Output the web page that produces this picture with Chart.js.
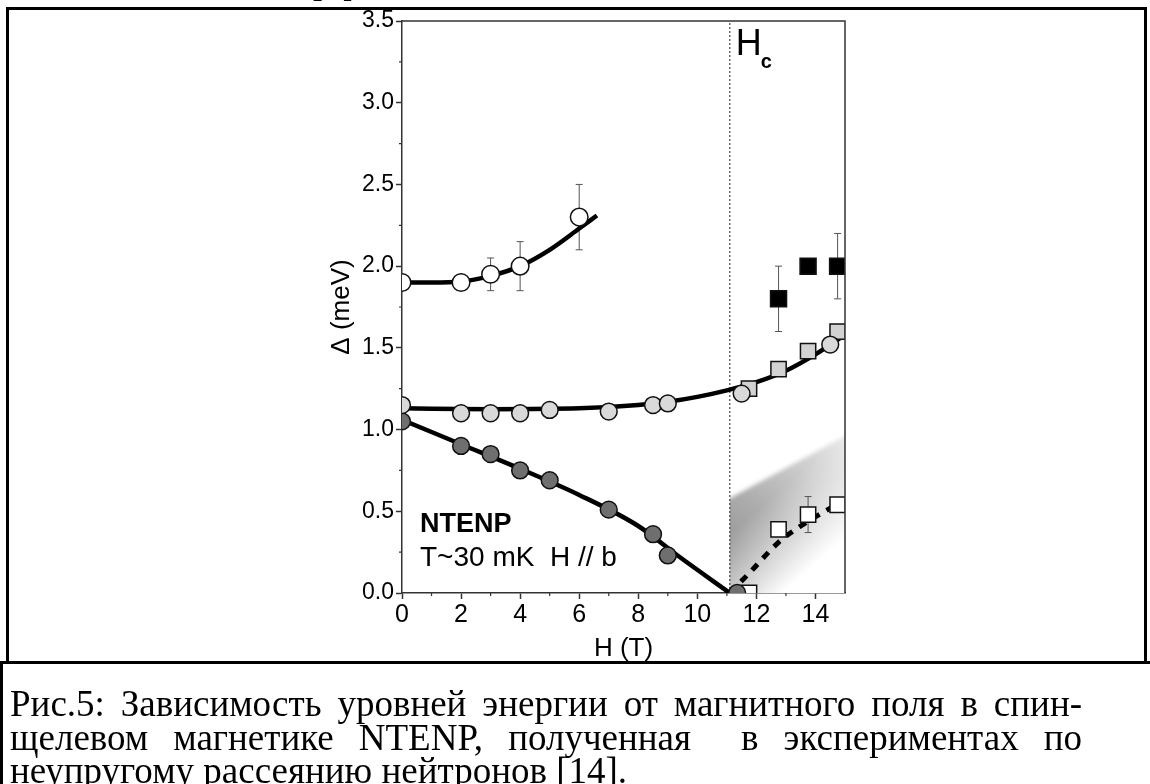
<!DOCTYPE html>
<html lang="ru">
<head>
<meta charset="utf-8">
<title>NTENP: Δ(H)</title>
<script src="https://cdn.jsdelivr.net/npm/chart.js@4.4.1/dist/chart.umd.min.js"></script>
<style>
  html, body { margin: 0; padding: 0; background: #fff; }
  #page { position: relative; width: 1150px; height: 784px; overflow: hidden; background: #fff; }
  #fig { position: absolute; left: 0; top: 0; }
  .rule { position: absolute; background: #000; }
  .cap { position: absolute; left: 10px; width: 1072px; font: 37px/37px "Liberation Serif", "Times New Roman", serif; color: #000; }
  .just { text-align: justify; text-align-last: justify; }
  #prev { position: absolute; left: 313px; top: -38px; font: 37px/37px "Liberation Serif", serif; letter-spacing: 4px; }
</style>
</head>
<body>
<div id="page">
  <canvas id="fig" width="1150" height="784"></canvas>
  <div id="prev">рф</div>
  <div class="rule" style="left:6px;top:7px;width:1141px;height:2.5px"></div>
  <div class="rule" style="left:6px;top:7px;width:2.5px;height:656px"></div>
  <div class="rule" style="left:1144px;top:7px;width:2.5px;height:656px"></div>
  <div class="rule" style="left:0;top:661px;width:1150px;height:3px"></div>
  <div class="rule" style="left:0;top:661px;width:2.5px;height:123px"></div>
  <div class="cap just" style="top:685px">Рис.5: Зависимость уровней энергии от магнитного поля в спин-</div>
  <div class="cap just" style="top:719px">щелевом магнетике NTENP, полученная&nbsp; в экспериментах по</div>
  <div class="cap" style="top:752px">неупругому рассеянию нейтронов [14].</div>
</div>
<script>
// critical field, T
const hc = 11.1;

// upper mode (open circles) and its fit
const upperH = [0, 2, 3, 4, 6];
const upperE = [1.9, 1.9, 1.95, 2.0, 2.3];
const upperErr = [0, 0, 0.1, 0.15, 0.2];
const upperFitH = [0, 1, 2, 3, 4, 5, 6, 6.6];
const upperFitE = [1.9, 1.9, 1.905, 1.94, 2.0, 2.1, 2.23, 2.31];

// middle mode: light circles below and above Hc, grey squares above Hc
const midH = [0, 2, 3, 4, 5, 7, 8.5, 9, 11.5, 14.5];
const midE = [1.15, 1.1, 1.1, 1.1, 1.12, 1.11, 1.15, 1.16, 1.22, 1.52];
const midSqH = [11.75, 12.75, 13.75, 14.75];
const midSqE = [1.25, 1.37, 1.48, 1.6];
const midFitH = [0, 3, 6, 8, 9, 10, 11, 12, 13, 14, 15];
const midFitE = [1.13, 1.125, 1.13, 1.15, 1.17, 1.2, 1.24, 1.29, 1.36, 1.46, 1.58];

// lower mode (dark circles), closes at Hc
const lowH = [0, 2, 3, 4, 5, 7, 8.5, 9, 11.35];
const lowE = [1.05, 0.9, 0.85, 0.75, 0.69, 0.51, 0.36, 0.23, 0.0];
const lowFitH = [0, 2, 4, 6, 8, 9.4, 11.1];
const lowFitE = [1.06, 0.91, 0.76, 0.6, 0.41, 0.22, 0];

// high-field modes: black squares, open squares with dashed guide
const topSqH = [12.75, 13.75, 14.75];
const topSqE = [1.8, 2.0, 2.0];
const topSqErr = [0.2, 0, 0.2];
const gapSqH = [11.75, 12.75, 13.75, 14.75];
const gapSqE = [0.0, 0.39, 0.48, 0.54];
const gapSqErr = [0, 0, 0.11, 0];
const gapFitH = [11.1, 11.75, 12.75, 13.5, 14.75];
const gapFitE = [0, 0.12, 0.31, 0.41, 0.545];

// shaded continuum above Hc: upper edge, then lower edge back to Hc
const bandH = [10.8, 15.3, 15.3, 12.9, 10.8];
const bandE = [0.55, 0.99, 0.38, 0, -0.2];

const xMinor = [1, 3, 5, 7, 9, 11, 13];
const yMinor = [0.25, 0.75, 1.25, 1.75, 2.25, 2.75, 3.25];

Chart.defaults.font.family = "'Liberation Sans', Arial, sans-serif";
Chart.defaults.color = '#000';

const pts = (hs, es) => hs.map((h, i) => ({ x: h, y: es[i] }));

const markers = (label, hs, es, style, r, fill) => ({
  label, data: pts(hs, es), showLine: false, order: 0, clip: 0,
  pointStyle: style, pointRadius: r, pointBackgroundColor: fill,
  pointBorderColor: '#111', pointBorderWidth: 1.5
});

const fit = (label, hs, es, dash) => ({
  label, data: pts(hs, es), showLine: true, order: 1, clip: 0,
  borderColor: '#000', borderWidth: dash ? 5 : 4.5, borderDash: dash || [],
  cubicInterpolationMode: 'monotone', pointRadius: 0, fill: false
});

const band = {
  id: 'band',
  beforeDatasetsDraw(chart) {
    const { ctx, chartArea: a, scales: { x, y } } = chart;
    const px = bandH.map(h => x.getPixelForValue(h));
    const py = bandE.map(e => y.getPixelForValue(e));
    const x0 = x.getPixelForValue(hc);
    ctx.save();
    ctx.beginPath();
    ctx.rect(x0, a.top, a.right - x0, a.bottom - a.top);
    ctx.clip();
    // darker near (Hc, 0), lighter along the band
    const g = ctx.createLinearGradient(x0, y.getPixelForValue(0), x.getPixelForValue(15), y.getPixelForValue(0.95));
    g.addColorStop(0, '#8a8a8a');
    g.addColorStop(0.45, '#adadad');
    g.addColorStop(1, '#e8e8e8');
    ctx.filter = 'blur(2px)';
    ctx.fillStyle = g;
    ctx.beginPath();
    px.forEach((v, i) => (i ? ctx.lineTo(v, py[i]) : ctx.moveTo(v, py[i])));
    ctx.closePath();
    ctx.fill();
    // soft fade towards the lower edge (normal n points into the band)
    const ax = px[3], ay = py[3], bx = px[2], by = py[2];
    const len = Math.hypot(bx - ax, by - ay);
    const nx = (by - ay) / len, ny = -(bx - ax) / len;
    const f = ctx.createLinearGradient(ax + nx * 80, ay + ny * 80, ax, ay);
    f.addColorStop(0, 'rgba(255,255,255,0)');
    f.addColorStop(1, 'rgba(255,255,255,1)');
    ctx.filter = 'none';
    ctx.fillStyle = f;
    ctx.fillRect(x0, a.top, a.right - x0, a.bottom - a.top);
    ctx.restore();
  }
};

const errorBars = {
  id: 'errorBars',
  beforeDatasetsDraw(chart) {
    const { ctx, scales: { x, y } } = chart;
    ctx.save();
    ctx.strokeStyle = '#555';
    ctx.lineWidth = 1;
    ctx.beginPath();
    [[upperH, upperE, upperErr], [topSqH, topSqE, topSqErr], [gapSqH, gapSqE, gapSqErr]].forEach(([hs, es, errs]) => {
      hs.forEach((h, i) => {
        if (!errs[i]) return;
        const px = x.getPixelForValue(h);
        const hi = y.getPixelForValue(es[i] + errs[i]);
        const lo = y.getPixelForValue(es[i] - errs[i]);
        ctx.moveTo(px, hi); ctx.lineTo(px, lo);
        ctx.moveTo(px - 3.5, hi); ctx.lineTo(px + 3.5, hi);
        ctx.moveTo(px - 3.5, lo); ctx.lineTo(px + 3.5, lo);
      });
    });
    ctx.stroke();
    ctx.restore();
  }
};

const decor = {
  id: 'decor',
  afterDraw(chart) {
    const { ctx, chartArea: a, scales: { x, y } } = chart;
    ctx.save();
    // top and right frame
    ctx.strokeStyle = '#333';
    ctx.lineWidth = 1.5;
    ctx.beginPath();
    ctx.moveTo(a.left, a.top);
    ctx.lineTo(a.right, a.top);
    ctx.lineTo(a.right, a.bottom);
    ctx.stroke();
    // minor ticks
    ctx.lineWidth = 1.2;
    ctx.beginPath();
    xMinor.forEach(v => { const p = x.getPixelForValue(v); ctx.moveTo(p, a.bottom); ctx.lineTo(p, a.bottom + 3); });
    yMinor.forEach(v => { const p = y.getPixelForValue(v); ctx.moveTo(a.left, p); ctx.lineTo(a.left - 3, p); });
    ctx.stroke();
    // labels
    const hx = x.getPixelForValue(hc);
    ctx.fillStyle = '#000';
    ctx.textAlign = 'left';
    ctx.textBaseline = 'alphabetic';
    ctx.font = "36px 'Liberation Sans'";
    ctx.fillText('H', hx + 6, a.top + 34);
    ctx.font = "bold 20px 'Liberation Sans'";
    ctx.fillText('c', hx + 31, a.top + 47);
    ctx.font = "bold 27px 'Liberation Sans'";
    ctx.fillText('NTENP', a.left + 18, a.bottom - 61);
    ctx.font = "28px 'Liberation Sans'";
    ctx.fillText('T~30 mK  H // b', a.left + 18, a.bottom - 27);
    ctx.restore();
  }
};

new Chart(document.getElementById('fig'), {
  type: 'scatter',
  data: {
    datasets: [
      {
        label: 'Hc', data: [{ x: hc, y: 0 }, { x: hc, y: 3.5 }], showLine: true, order: 3, clip: 0,
        borderColor: '#222', borderWidth: 1, borderDash: [2, 2], pointRadius: 0
      },
      fit('upper fit', upperFitH, upperFitE),
      fit('middle fit', midFitH, midFitE),
      fit('lower fit', lowFitH, lowFitE),
      fit('gap guide', gapFitH, gapFitE, [8, 8]),
      markers('upper', upperH, upperE, 'circle', 8.8, '#fff'),
      markers('middle', midH, midE, 'circle', 8.4, '#d9d9d9'),
      markers('middle, H > Hc', midSqH, midSqE, 'rect', 10.8, '#d2d2d2'),
      markers('lower', lowH, lowE, 'circle', 8.4, '#6f6f6f'),
      markers('upper, H > Hc', topSqH, topSqE, 'rect', 11.3, '#000'),
      markers('gap, H > Hc', gapSqH, gapSqE, 'rect', 10.8, '#fff')
    ]
  },
  options: {
    responsive: false,
    animation: false,
    events: [],
    layout: { padding: { left: 320, right: 305, top: 21, bottom: 116 } },
    plugins: { legend: { display: false }, tooltip: { enabled: false } },
    scales: {
      x: {
        type: 'linear', min: 0, max: 15,
        afterFit: s => { s.height = 75; },
        ticks: { stepSize: 2, includeBounds: false, padding: 1, font: { size: 25 }, color: '#000' },
        grid: { drawOnChartArea: false, tickLength: 6, tickColor: '#333', tickWidth: 1.5 },
        border: { display: true, color: '#333', width: 1.5 },
        title: { display: true, text: 'H (T)', font: { size: 26 }, color: '#000', padding: { top: 0, bottom: 4 } }
      },
      y: {
        type: 'linear', min: 0, max: 3.5,
        afterFit: s => { s.width = 82; },
        ticks: { stepSize: 0.5, padding: 2, font: { size: 23 }, color: '#000', callback: v => v.toFixed(1) },
        grid: { drawOnChartArea: false, tickLength: 6, tickColor: '#333', tickWidth: 1.5 },
        border: { display: true, color: '#333', width: 1.5 },
        title: { display: true, text: 'Δ (meV)', font: { size: 26 }, color: '#000', padding: { top: 6, bottom: 0 } }
      }
    }
  },
  plugins: [band, errorBars, decor]
});
</script>
</body>
</html>
